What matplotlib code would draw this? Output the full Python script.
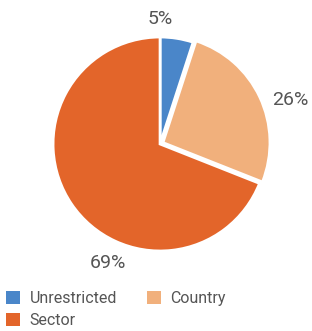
import matplotlib
matplotlib.use('Agg')
import matplotlib.pyplot as plt
from matplotlib.patches import Patch

categories = ['Unrestricted', 'Country', 'Sector']
shares = [5, 26, 69]
colors = ['#4a86c9', '#f1b07c', '#e3652a']
explode = [0.0, 0.03, 0.0]

# label positions in pie coordinates (radius = 1)
label_xy = [(0.0, 1.17), (1.22, 0.41), (-0.49, -1.11)]

plt.rcParams['font.family'] = ['Roboto', 'DejaVu Sans']

fig = plt.figure(figsize=(3.12, 3.31), dpi=100)
ax = fig.add_axes([0.17, 0.2417, 0.686, 0.6465])

ax.pie(shares, colors=colors, startangle=90, counterclock=False,
       radius=1.0, explode=explode,
       wedgeprops=dict(edgecolor='white', linewidth=2.0))
ax.set_xlim(-1, 1)
ax.set_ylim(-1, 1)
ax.set_aspect('equal')
ax.axis('off')

for v, (x, y) in zip(shares, label_xy):
    ax.text(x, y, '{}%'.format(v), ha='center', va='center',
            fontsize=14, color='#555555', clip_on=False)

# legend fills row-wise in the reference: Unrestricted, Country / Sector
order = [0, 2, 1]
handles = [Patch(facecolor=colors[i], edgecolor='none') for i in order]
labels = [categories[i] for i in order]
fig.legend(handles, labels, loc='upper left', bbox_to_anchor=(0.0, 0.14),
           ncol=2, frameon=False, fontsize=11.5, labelcolor='#555555',
           handlelength=0.85, handleheight=0.85, handletextpad=0.6,
           columnspacing=1.9, labelspacing=0.45, borderaxespad=0)

fig.savefig('out.png', dpi=100)
